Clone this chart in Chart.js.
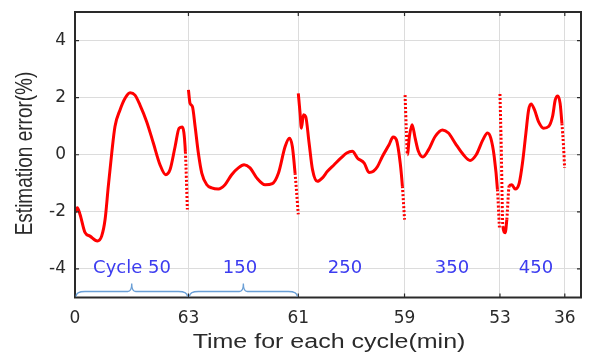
<!DOCTYPE html>
<html><head><meta charset="utf-8">
<script src="https://cdn.jsdelivr.net/npm/chart.js@4/dist/chart.umd.min.js"></script>
<style>html,body{margin:0;padding:0;background:#fff}#wrap{width:590px;height:352px}</style>
</head><body><div id="wrap"><canvas id="c"></canvas></div>
<script>
/* ===== data (time in cumulative minutes, error in %) ===== */
const cycleEnds=[0,63,124,183,236,272];
const tickLabels=['0','63','61','59','53','36'];
const yTicks=[-4,-2,0,2,4];
const cycleNames=['Cycle 50','150','250','350','450'];

const t50=[0,1.3,2.8,5.6,8.3,12.4,14.8,16.7,18.5,20.4,22.2,25,27.8,30.6,33.3,36.1,39.8,43.5,47.2,50.4,52.8,55.6,57.8,59.6,61.3,62.4];
const e50=[-2.03,-1.86,-2.09,-2.73,-2.85,-3.02,-2.85,-2.27,-1.1,0.06,0.99,1.57,1.98,2.17,2.09,1.74,1.16,0.41,-0.35,-0.7,-0.52,0.29,0.93,0.97,0.1,-1.92];
const t150=[63,63.9,65.2,66.7,68.5,70.4,73.2,75.9,79.6,83.3,87,90.7,93.9,97.2,100.9,105.6,109.6,113,116.7,119.1,120.7,122.2,124];
const e150=[2.27,1.8,1.69,0.99,0.06,-0.64,-1.05,-1.16,-1.2,-1.05,-0.7,-0.46,-0.35,-0.46,-0.81,-1.05,-1.01,-0.64,0.29,0.58,0.29,-0.64,-2.09];
const t250=[124,125,125.7,126.9,128.1,130,131.9,134.6,137.4,140.2,143.9,147.6,150.9,154,156.9,160.6,163.3,165.7,168,170.7,174.4,176.7,178.5,180.6,181.8,183];
const e250=[2.15,1.45,0.93,1.4,1.34,0.41,-0.52,-0.93,-0.81,-0.58,-0.35,-0.12,0.06,0.12,-0.12,-0.29,-0.62,-0.58,-0.41,-0.06,0.35,0.62,0.52,-0.29,-1.1,-2.27];
const t350=[183.3,184,184.6,185.7,187.2,188.9,190.7,193.2,196.3,200,204.1,207.4,211.1,215.7,219.4,222.8,226.5,229.1,230.9,232.8,234.6,235.7];
const e350=[2.09,0.87,0,0.64,1.05,0.58,0.12,-0.08,0.17,0.64,0.87,0.76,0.41,0,-0.2,0,0.52,0.76,0.58,-0.06,-1.22,-2.56];
const t450=[236,236.7,237.6,238.9,239.8,241.1,242.6,244.4,246.7,248.5,250.4,251.9,253.3,255.2,257.4,260.2,263,265.2,266.7,268.1,269.4,270.4,271.3,271.9];
const e450=[2.13,0.29,-2.5,-2.73,-2.27,-1.1,-1.05,-1.2,-0.99,-0.29,0.76,1.57,1.78,1.57,1.16,0.93,0.99,1.34,1.92,2.06,1.8,1.1,0.29,-0.46];

/* ---------- helpers ---------- */
const RED='#ff0000', INK='#2a2a2a', GRID='#dcdcdc';
const pts=(t,e)=>t.map((x,i)=>({x,y:e[i]}));
const steep=c=>Math.abs(c.p1.y-c.p0.y)>10*Math.abs(c.p1.x-c.p0.x)+4;
const mkLine=(t,e)=>({data:pts(t,e),borderColor:RED,borderWidth:3,pointRadius:0,
  cubicInterpolationMode:'monotone',fill:false,
  segment:{borderDash:c=>steep(c)?[2,2]:undefined}});

function sText(ctx,txt,x,y,sx,sy){ctx.save();ctx.translate(x,y);ctx.scale(sx,sy);ctx.fillText(txt,0,0);ctx.restore();}

function brace(ctx,x0,x1,yb,ym,yt){
  const xc=(x0+x1)/2, r=9, q=4;
  ctx.beginPath();
  ctx.moveTo(x0,yb);
  ctx.quadraticCurveTo(x0,ym,x0+r,ym);
  ctx.lineTo(xc-q,ym);
  ctx.quadraticCurveTo(xc,ym,xc,yt);
  ctx.quadraticCurveTo(xc,ym,xc+q,ym);
  ctx.lineTo(x1-r,ym);
  ctx.quadraticCurveTo(x1,ym,x1,yb);
  ctx.stroke();
}

/* ---------- plugins ---------- */
const frame={id:'frame',afterDatasetsDraw(c){
  const {ctx,chartArea:{left,right,top,bottom},scales:{x,y}}=c;
  ctx.save(); ctx.strokeStyle=INK; ctx.lineWidth=1.2;
  ctx.beginPath();
  cycleEnds.forEach(v=>{const px=x.getPixelForValue(v);
    ctx.moveTo(px,bottom);ctx.lineTo(px,bottom-4);ctx.moveTo(px,top);ctx.lineTo(px,top+4);});
  yTicks.forEach(v=>{const py=y.getPixelForValue(v);
    ctx.moveTo(left,py);ctx.lineTo(left+4,py);ctx.moveTo(right,py);ctx.lineTo(right-4,py);});
  ctx.stroke();
  ctx.lineWidth=2; ctx.strokeRect(left,top,right-left,bottom-top);
  ctx.restore();
}};

const annot={id:'annot',afterDraw(c){
  const {ctx,chartArea:{bottom},scales:{x}}=c;
  ctx.save();
  // braces for first two cycles
  ctx.strokeStyle='#6a9fd6'; ctx.lineWidth=1.3;
  for(let i=0;i<2;i++) brace(ctx,x.getPixelForValue(cycleEnds[i])+1,x.getPixelForValue(cycleEnds[i+1])-1,bottom-1,bottom-6,bottom-14);
  // cycle labels
  ctx.fillStyle='#3c3cf0'; ctx.font='17px "DejaVu Sans"'; ctx.textAlign='center'; ctx.textBaseline='middle';
  const lx=[132,240,345,452,536];
  cycleNames.forEach((n,i)=>sText(ctx,n,lx[i],269,1.06,1));
  // axis titles
  ctx.fillStyle=INK; ctx.font='20px "Liberation Sans", Arial, sans-serif';
  ctx.textBaseline='alphabetic';
  sText(ctx,'Time for each cycle(min)',329,347.5,1.25,1);
  ctx.save(); ctx.translate(32,153.5); ctx.rotate(-Math.PI/2); ctx.scale(1,1.25);
  ctx.font='19px "Liberation Sans", Arial, sans-serif'; ctx.textBaseline='alphabetic';
  ctx.fillText('Estimation error(%)',0,0); ctx.restore();
  ctx.restore();
}};

/* ---------- chart ---------- */
new Chart(document.getElementById('c'),{
  type:'line',
  data:{datasets:[mkLine(t50,e50),mkLine(t150,e150),mkLine(t250,e250),mkLine(t350,e350),mkLine(t450,e450)]},
  options:{
    responsive:true,maintainAspectRatio:false,animation:false,
    layout:{padding:{top:12,right:9,left:0,bottom:0}},
    plugins:{legend:{display:false},tooltip:{enabled:false}},
    scales:{
      x:{type:'linear',min:0,max:281,
         afterBuildTicks:s=>{s.ticks=cycleEnds.map(v=>({value:v}));},
         afterFit:s=>{s.height=54.5;s.paddingLeft=0;s.paddingRight=0;},
         ticks:{autoSkip:false,maxRotation:0,padding:11,color:INK,font:{family:'DejaVu Sans',size:17},
                callback:(v,i)=>tickLabels[i]},
         grid:{color:GRID,lineWidth:1,drawTicks:false},border:{display:false}},
      y:{min:-5,max:5,
         afterBuildTicks:s=>{s.ticks=yTicks.map(v=>({value:v}));},
         afterFit:s=>{s.width=75;s.paddingTop=0;s.paddingBottom=0;},
         ticks:{padding:9,color:INK,font:{family:'DejaVu Sans',size:17}},
         grid:{color:GRID,lineWidth:1,drawTicks:false},border:{display:false}}
    }
  },
  plugins:[frame,annot]
});
</script></body></html>
